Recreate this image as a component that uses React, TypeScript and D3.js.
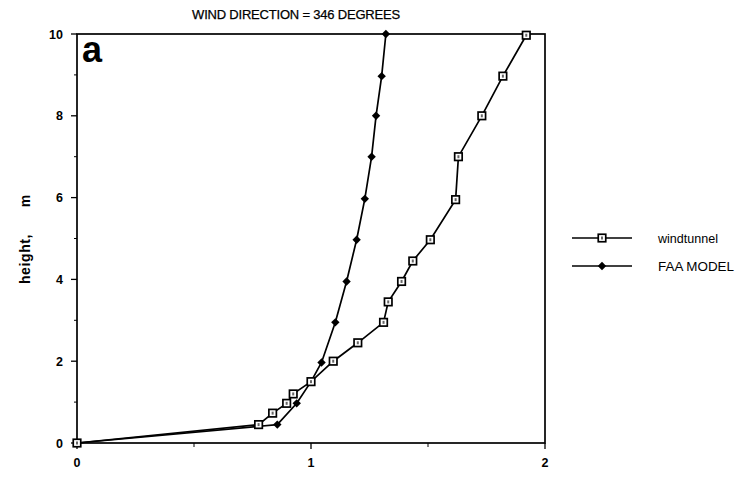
import React from "react";
import * as d3 from "d3";

// Vertical profile: normalised speed vs height
const windtunnelSpeed = [0, 0.776, 0.836, 0.896, 0.924, 1.0, 1.095, 1.2, 1.31, 1.33, 1.387, 1.435, 1.51, 1.618, 1.63, 1.73, 1.82, 1.92];
const windtunnelHeight = [0, 0.45, 0.73, 0.97, 1.2, 1.5, 2.0, 2.45, 2.95, 3.45, 3.95, 4.45, 4.97, 5.95, 7.0, 8.0, 8.97, 9.97];

const faaSpeed = [0, 0.856, 0.939, 1.0, 1.045, 1.104, 1.152, 1.195, 1.23, 1.259, 1.278, 1.302, 1.32];
const faaHeight = [0, 0.45, 0.97, 1.5, 1.97, 2.95, 3.95, 4.97, 5.97, 7.0, 8.0, 8.97, 10.0];

const xTickLabels = [0, 1, 2];
const xMinorTicks = [0.5, 1.5];
const yTickLabels = [0, 2, 4, 6, 8, 10];
const yMinorTicks = [1, 3, 5, 7, 9];

const seriesNames = ["windtunnel", "FAA MODEL"];

const W = 745;
const H = 477;
const FONT = "'Liberation Sans', Arial, Helvetica, sans-serif";

function SquareMark({ x, y }: { x: number; y: number }) {
  const s = 7.5;
  return (
    <g>
      <rect x={x - s / 2} y={y - s / 2} width={s} height={s} fill="#fff" stroke="#000" strokeWidth={1.7} />
      <rect x={x - 1} y={y - 1.5} width={2} height={3} fill="#666" />
    </g>
  );
}

function DiamondMark({ x, y }: { x: number; y: number }) {
  const r = 4.2;
  return <path d={`M${x},${y - r}L${x + r},${y}L${x},${y + r}L${x - r},${y}Z`} fill="#000" />;
}

export default function App() {
  const x = d3.scaleLinear().domain([0, 2]).range([77, 545]);
  const y = d3.scaleLinear().domain([0, 10]).range([443, 34]);

  const wt = windtunnelSpeed.map((v, i) => [v, windtunnelHeight[i]] as [number, number]);
  const faa = faaSpeed.map((v, i) => [v, faaHeight[i]] as [number, number]);

  const line = d3
    .line<[number, number]>()
    .x((d) => x(d[0]))
    .y((d) => y(d[1]));

  const [x0, x1] = x.range();
  const [yb, yt] = y.range();

  const legendX = 572;
  const legendY = [238, 266];
  const legendTextWidth = [60, 76];

  return (
    <svg
      width={W}
      height={H}
      viewBox={`0 0 ${W} ${H}`}
      style={{ position: "absolute", left: 0, top: 0, background: "#fff" }}
      fontFamily={FONT}
    >
      <rect width={W} height={H} fill="#fff" />

      {/* title */}
      <text
        x={296}
        y={19}
        textAnchor="middle"
        fontSize={13}
        fill="#000"
        stroke="#000"
        strokeWidth={0.25}
        letterSpacing={-0.2}
      >
        WIND DIRECTION = 346 DEGREES
      </text>

      {/* frame */}
      <rect x={x0} y={yt} width={x1 - x0} height={yb - yt} fill="none" stroke="#000" strokeWidth={1.7} />

      {/* y ticks */}
      {yTickLabels.map((t) => (
        <g key={`yt${t}`}>
          <line x1={x0 - 6} x2={x0} y1={y(t)} y2={y(t)} stroke="#000" strokeWidth={1.3} />
          <text x={x0 - 14} y={y(t) + 4.5} textAnchor="end" fontSize={12.5} fontWeight="bold" fill="#000">
            {t}
          </text>
        </g>
      ))}
      {yMinorTicks.map((t) => (
        <line key={`ym${t}`} x1={x0 - 3} x2={x0} y1={y(t)} y2={y(t)} stroke="#000" strokeWidth={1} />
      ))}

      {/* x ticks */}
      {xTickLabels.map((t) => (
        <g key={`xt${t}`}>
          <line x1={x(t)} x2={x(t)} y1={yb} y2={yb + 6} stroke="#000" strokeWidth={1.3} />
          <text x={x(t)} y={yb + 24} textAnchor="middle" fontSize={12.5} fontWeight="bold" fill="#000">
            {t}
          </text>
        </g>
      ))}
      {xMinorTicks.map((t) => (
        <line key={`xm${t}`} x1={x(t)} x2={x(t)} y1={yb} y2={yb + 4} stroke="#000" strokeWidth={1} />
      ))}

      {/* y axis title */}
      <g transform={`translate(30,0) rotate(-90)`} fontSize={14} fontWeight="bold" fill="#000">
        <text x={-259} y={0} textAnchor="middle" letterSpacing={0.6}>
          height,
        </text>
        <text x={-201} y={0} textAnchor="middle">
          m
        </text>
      </g>

      {/* panel letter */}
      <text x={x0 + 5} y={yt + 28} fontSize={36} fontWeight="bold" fill="#000">
        a
      </text>

      {/* series lines */}
      <path d={line(wt) ?? ""} fill="none" stroke="#000" strokeWidth={1.7} />
      <path d={line(faa) ?? ""} fill="none" stroke="#000" strokeWidth={1.7} />

      {faa.map((d, i) => (
        <DiamondMark key={`f${i}`} x={x(d[0])} y={y(d[1])} />
      ))}
      {wt.map((d, i) => (
        <SquareMark key={`w${i}`} x={x(d[0])} y={y(d[1])} />
      ))}

      {/* legend */}
      {seriesNames.map((name, i) => (
        <g key={name}>
          <line x1={legendX} x2={legendX + 60} y1={legendY[i]} y2={legendY[i]} stroke="#000" strokeWidth={1.4} />
          {i === 0 ? (
            <SquareMark x={legendX + 30} y={legendY[i]} />
          ) : (
            <DiamondMark x={legendX + 30} y={legendY[i]} />
          )}
          <text
            x={legendX + 86}
            y={legendY[i] + 4.5}
            fontSize={12.5}
            fill="#000"
            textLength={legendTextWidth[i]}
            lengthAdjust="spacingAndGlyphs"
          >
            {name}
          </text>
        </g>
      ))}
    </svg>
  );
}
